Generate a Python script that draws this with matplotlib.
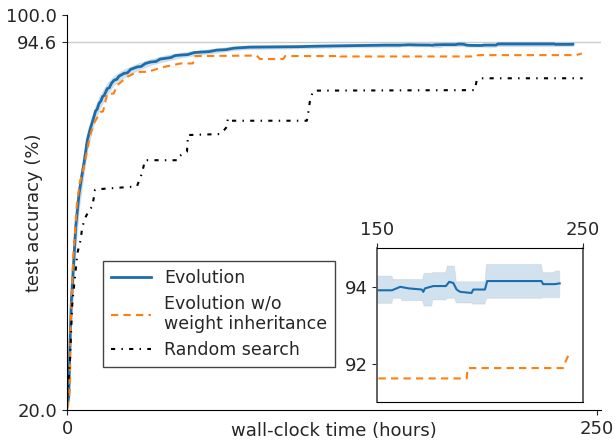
import numpy as np
import matplotlib
matplotlib.use("Agg")
from matplotlib import pyplot as plt

# Evolution (median) curve
evo_hours = [0.3, 0.8, 0.9, 1.4, 2.0, 3.0, 4.1, 5.7, 7.2, 8.0, 9.6, 11.0, 12.7, 13.5, 14.2, 15.1,
             16.0, 16.8, 17.5, 19.0, 20.0, 21.0, 22.2, 23.5, 24.5, 26.9, 28.5, 30.0, 33.2, 35, 37,
             39.5, 42, 44, 45.8, 49, 51, 53.6, 57, 60, 63, 67, 70.7, 75, 78.8, 86, 109, 118, 133,
             150.2, 157.1, 161.2, 165.2, 171.6, 172.4, 173.2, 177.3, 183.4, 185, 187, 188.6,
             190.3, 195.9, 196.7, 202.4, 203.5, 229.9, 230.7, 236.4, 238.8]
evo_acc = [21.5, 22.6, 24.7, 33.6, 41.7, 49.0, 57.1, 63.9, 68.0, 70.0, 74.7, 77.0, 79.4, 80.6, 80.9, 82.1,
           82.6, 83.5, 83.7, 85.1, 85.3, 86.2, 86.8, 87.0, 87.6, 88.2, 88.3, 89.0, 89.5, 89.6, 90.2,
           90.5, 90.6, 91.1, 91.2, 91.4, 91.8, 91.9, 92.0, 92.4, 92.5, 92.6, 92.9, 93.0, 93.3, 93.5,
           93.6, 93.7, 93.8,
           93.91, 93.91, 94.0, 93.96, 93.93, 93.87, 93.96, 94.02, 94.02, 94.13, 94.1, 93.93,
           93.87, 93.84, 93.93, 93.93, 94.15, 94.15, 94.07, 94.07, 94.09]

# spread band around evolution
band_hours = [0.3, 0.8, 1.4, 2.0, 3.0, 4.1, 5.7, 7.2, 9.6, 12.7, 15.1, 19.0, 22.2, 26.9, 33.2,
              39.5, 45.8, 53.6, 63, 70.7, 78.8, 86, 109, 118, 133,
              150.2, 157.1, 157.6, 161.5, 162.0, 172.0, 172.8, 176.5, 177.0, 183.4, 184.0, 187.5,
              188.5, 195.9, 196.4, 202.4, 203.2, 229.9, 230.5, 236.0, 236.6, 238.8]
band_lo = [20.5, 21.0, 29.0, 37.0, 44.5, 53.0, 61.0, 65.5, 72.8, 78.0, 80.8, 84.0, 85.9, 87.4, 88.8,
           89.9, 90.6, 91.4, 92.0, 92.4, 92.9, 93.1, 93.25, 93.35, 93.45,
           93.57, 93.57, 93.70, 93.70, 93.64, 93.64, 93.50, 93.50, 93.66, 93.66, 93.70, 93.70,
           93.58, 93.58, 93.55, 93.55, 93.70, 93.70, 93.72, 93.72, 93.72, 93.72]
band_hi = [22.5, 25.5, 38.0, 46.0, 53.5, 61.0, 66.5, 70.0, 76.5, 80.8, 83.4, 86.2, 87.7, 89.0, 90.2,
           91.1, 91.8, 92.4, 92.9, 93.3, 93.7, 93.9, 93.95, 94.05, 94.15,
           94.28, 94.28, 94.19, 94.19, 94.19, 94.19, 94.35, 94.35, 94.37, 94.37, 94.54, 94.54,
           94.13, 94.13, 94.13, 94.13, 94.58, 94.58, 94.37, 94.37, 94.41, 94.41]

# Evolution w/o weight inheritance
wo_hours = [0.2, 1.3, 1.7, 2.8, 4.7, 6.0, 8.0, 10.8, 12.7, 15.9, 17.0, 19.0, 22.0, 23.7, 28.4,
            33.2, 37.9, 45.8, 53.6, 59.4, 60.4,
            89.6, 91.0, 102.0, 103.0, 127.5, 128.0, 129.0, 193.5, 194.0, 240.4, 241.5, 243.0]
wo_acc = [20.3, 24.0, 36.8, 50.0, 61.9, 66.0, 69.3, 75.5, 78.1, 80.4, 80.5, 84.1, 84.1, 85.8, 87.5,
          88.5, 88.5, 89.5, 90.2, 90.2, 91.7,
          91.8, 91.1, 91.1, 91.7, 91.7, 92.0, 91.62, 91.62, 91.89, 91.89, 92.04, 92.22]

# Random search
rand_hours = [0.1, 1.4, 2.0, 2.5, 4.1, 4.9, 6.4, 7.2, 8.8, 10.4, 11.9, 13.0, 13.2, 17.0, 33.0,
              35.4, 36.8, 51.9, 52.4, 56.6, 57.1, 72.2, 73.6, 75.5, 75.9, 77.8, 113.2, 113.7,
              114.6, 116.0, 117.9, 192.5, 193.4, 195.8, 243.4]
rand_acc = [22.6, 30.1, 36.8, 41.7, 48.4, 51.8, 54.4, 57.1, 59.1, 60.5, 61.2, 63.9, 64.6, 64.8, 65.3,
            68.0, 70.6, 70.6, 71.3, 72.3, 75.7, 75.9, 76.4, 77.4, 79.1, 78.6, 78.6, 79.7,
            82.4, 84.5, 84.7, 84.8, 86.8, 87.2, 87.2]

BLUE = '#1b6ead'
ORANGE = '#ff7f0e'
TXT = '#262626'

plt.rcParams['font.family'] = ['DejaVu Sans']
plt.rcParams['font.size'] = 13
plt.rcParams['text.color'] = TXT
plt.rcParams['xtick.color'] = TXT
plt.rcParams['ytick.color'] = TXT
plt.rcParams['axes.labelcolor'] = TXT

def draw(ax, lw_main):
    ax.fill_between(band_hours, band_lo, band_hi, facecolor=BLUE, alpha=0.2,
                    edgecolor='#aaaaaa', linewidth=0.8)
    ax.plot(evo_hours, evo_acc, color=BLUE, lw=lw_main, label='Evolution')
    ax.plot(wo_hours, wo_acc, color=ORANGE, lw=1.5, linestyle=(0, (3.5, 2.5)),
            label='Evolution w/o\nweight inheritance')
    ax.plot(rand_hours, rand_acc, color='black', lw=1.5, linestyle=(0, (2, 3, 0.7, 3)),
            label='Random search')

fig = plt.figure(figsize=(6.15, 4.44), dpi=100)
ax = fig.add_axes([0.109, 0.0766, 0.868, 0.8894])
ax.axhline(94.6, color='#cccccc', lw=1, zorder=0)
draw(ax, 2.0)
ax.set_xlim(0, 252)
ax.set_ylim(20, 100)
ax.set_xticks([0, 250])
ax.set_yticks([20.0, 94.6, 100.0])
ax.set_yticklabels(['20.0', '94.6', '100.0'])
ax.spines['top'].set_visible(False)
ax.spines['right'].set_visible(False)
ax.set_xlabel('wall-clock time (hours)')
ax.set_ylabel('test accuracy (%)')
ax.xaxis.set_label_coords(0.5, -0.03)
ax.yaxis.set_label_coords(-0.045, 0.5)
leg = ax.legend(loc='lower left', bbox_to_anchor=(0.067, 0.109), borderaxespad=0,
                fancybox=False, framealpha=1, handlelength=2.3, labelspacing=0.45,
                borderpad=0.45, fontsize=12.5)
leg.get_frame().set_edgecolor('#444444')

ins = fig.add_axes([0.6135, 0.0939, 0.334, 0.3468])
draw(ins, 1.5)
ins.set_xlim(150, 250)
ins.set_ylim(91, 95)
ins.set_xticks([150, 250])
ins.set_yticks([92, 94])
ins.xaxis.tick_top()
for s in ['left', 'right']:
    ins.spines[s].set_color('#555555')
    ins.spines[s].set_linewidth(1.3)

fig.savefig('out.png', dpi=100)
